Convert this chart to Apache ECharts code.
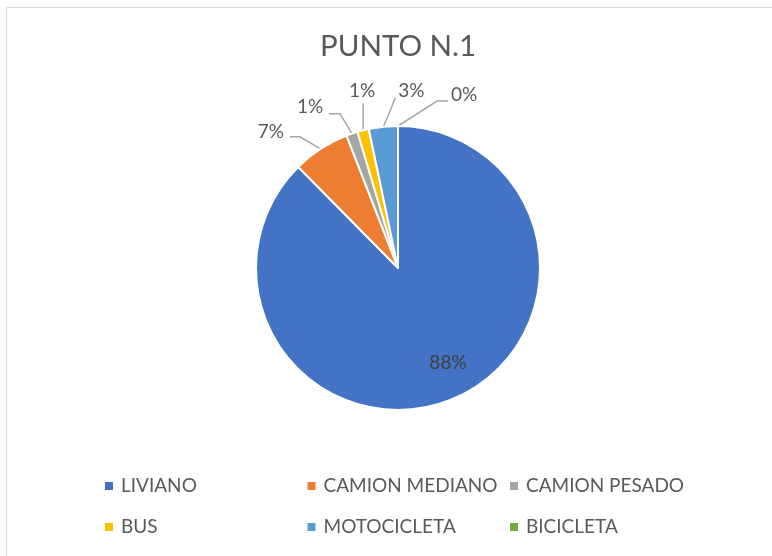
<!DOCTYPE html>
<html>
<head>
<meta charset="utf-8">
<script src="https://cdn.jsdelivr.net/npm/echarts@6/dist/echarts.min.js"></script>
<style>
  html, body { margin: 0; padding: 0; background: #ffffff; }
  #chart { width: 772px; height: 556px; }
</style>
</head>
<body>
<div id="chart"></div>
<script>
// Vehicle mix at counting point 1
const chartTitle = 'PUNTO N.1';
const categories = ['LIVIANO', 'CAMION MEDIANO', 'CAMION PESADO', 'BUS', 'MOTOCICLETA', 'BICICLETA'];
const shares = [87.6, 6.5, 1.3, 1.3, 3.3, 0];
const colors = ['#4472C4', '#ED7D31', '#A5A5A5', '#FFC000', '#5B9BD5', '#70AD47'];

// Pie geometry
const CX = 398, CY = 268, R = 142;

// Label placement: offsets from the point where each leader line leaves its slice
const insideLabelOffset = [50, 95];
const labelPlacement = [
  null,
  { label: [-50, -17], line: [[-21, -12], [-31, -12]] },
  { label: [-42, -27], line: [[-12, -20], [-23, -20]] },
  { label: [-1, -39],  line: [[0, -13], [0, -27]] },
  { label: [28, -36],  line: [[6, -14], [12, -29]] },
  { label: [66, -31],  line: [[39, -25], [50, -25]] }
];

const FONT = 'Lato';
const TEXT = '#595959';

const pieData = categories.map((name, i) => {
  const item = { name: name, value: shares[i], itemStyle: { color: colors[i] } };
  if (i === 0) {
    item.label = { position: 'inside', color: '#404040' };
    item.labelLine = { show: false };
  }
  return item;
});

const chart = echarts.init(document.getElementById('chart'), null, { renderer: 'canvas' });

chart.setOption({
  backgroundColor: '#ffffff',
  animation: false,
  title: {
    text: chartTitle,
    left: 320,
    top: 31,
    padding: 0,
    textStyle: { fontFamily: FONT, fontSize: 29.5, fontWeight: 'normal', color: TEXT }
  },
  // three fixed-width columns, two rows
  legend: {
    data: categories,
    orient: 'horizontal',
    left: 105,
    top: 470.25,
    width: 620,
    padding: 0,
    icon: 'rect',
    itemWidth: 8,
    itemHeight: 8,
    itemGap: 9.5,
    itemStyle: { borderWidth: 0 },
    textStyle: {
      fontFamily: FONT, fontSize: 19, color: TEXT,
      width: 177, lineHeight: 31.5, padding: [0, 0, 0, 3]
    }
  },
  graphic: [{
    type: 'rect',
    silent: true,
    shape: { x: 6.5, y: 7.5, width: 800, height: 600 },
    style: { fill: 'none', stroke: '#d9d9d9', lineWidth: 1 }
  }],
  series: [{
    type: 'pie',
    center: [CX, CY],
    radius: [0, R],
    startAngle: 90,
    clockwise: true,
    avoidLabelOverlap: false,
    percentPrecision: 0,
    itemStyle: { borderColor: '#ffffff', borderWidth: 2 },
    emphasis: { disabled: true },
    label: {
      show: true,
      position: 'outside',
      formatter: '{d}%',
      fontFamily: FONT,
      fontSize: 19,
      color: TEXT
    },
    labelLine: {
      show: true,
      lineStyle: { color: '#a6a6a6', width: 1.5 }
    },
    labelLayout: function (params) {
      const i = params.dataIndex;
      if (i === 0) {
        return { x: CX + insideLabelOffset[0], y: CY + insideLabelOffset[1], align: 'center', verticalAlign: 'middle' };
      }
      const p = labelPlacement[i];
      const s = params.labelLinePoints[0];
      return {
        x: s[0] + p.label[0],
        y: s[1] + p.label[1],
        align: 'center',
        verticalAlign: 'middle',
        labelLinePoints: [
          [s[0], s[1]],
          [s[0] + p.line[0][0], s[1] + p.line[0][1]],
          [s[0] + p.line[1][0], s[1] + p.line[1][1]]
        ]
      };
    },
    data: pieData
  }]
});
</script>
</body>
</html>
